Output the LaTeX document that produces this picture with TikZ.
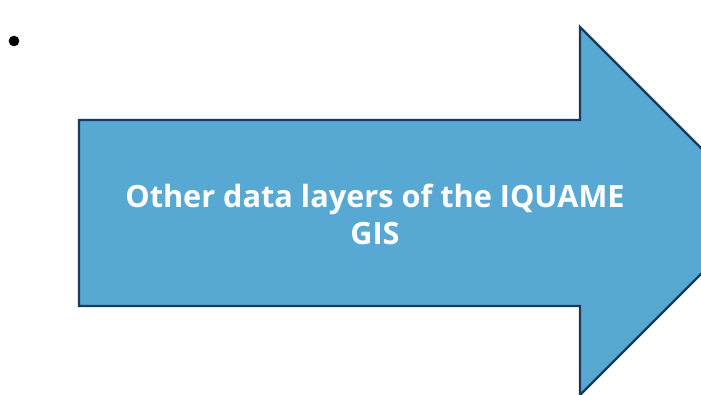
\documentclass[tikz,border=0pt]{standalone}
\usepackage{fontspec}
\setmainfont{Open Sans}
\usepackage{tikz}
\definecolor{arrowfill}{HTML}{57A9D4}
\definecolor{arrowline}{HTML}{173A5E}
\tikzset{
  bigarrow/.style={fill=arrowfill, draw=arrowline, line width=1.75pt, line join=miter},
  arrowtext/.style={text=white, font=\fontsize{23}{27.75}\selectfont\bfseries, align=center},
}
\begin{document}
\begin{tikzpicture}[x=0.75pt,y=-0.75pt]
  % page frame
  \useasboundingbox (0,0) rectangle (701,394);
  \clip (0,0) rectangle (701,394);
  % bullet
  \node[circle, fill=black, inner sep=0pt, minimum size=8pt] (dot) at (14,41) {};
  % Arrow outline
  \draw[bigarrow] (79,120) -- (580,120) -- (580,27) -- (764,211)
    -- (580,395) -- (580,306) -- (79,306) -- cycle;
  % Label
  \node[arrowtext] (label) at (375,214) {Other data layers of the IQUAME\\GIS};
\end{tikzpicture}
\end{document}
